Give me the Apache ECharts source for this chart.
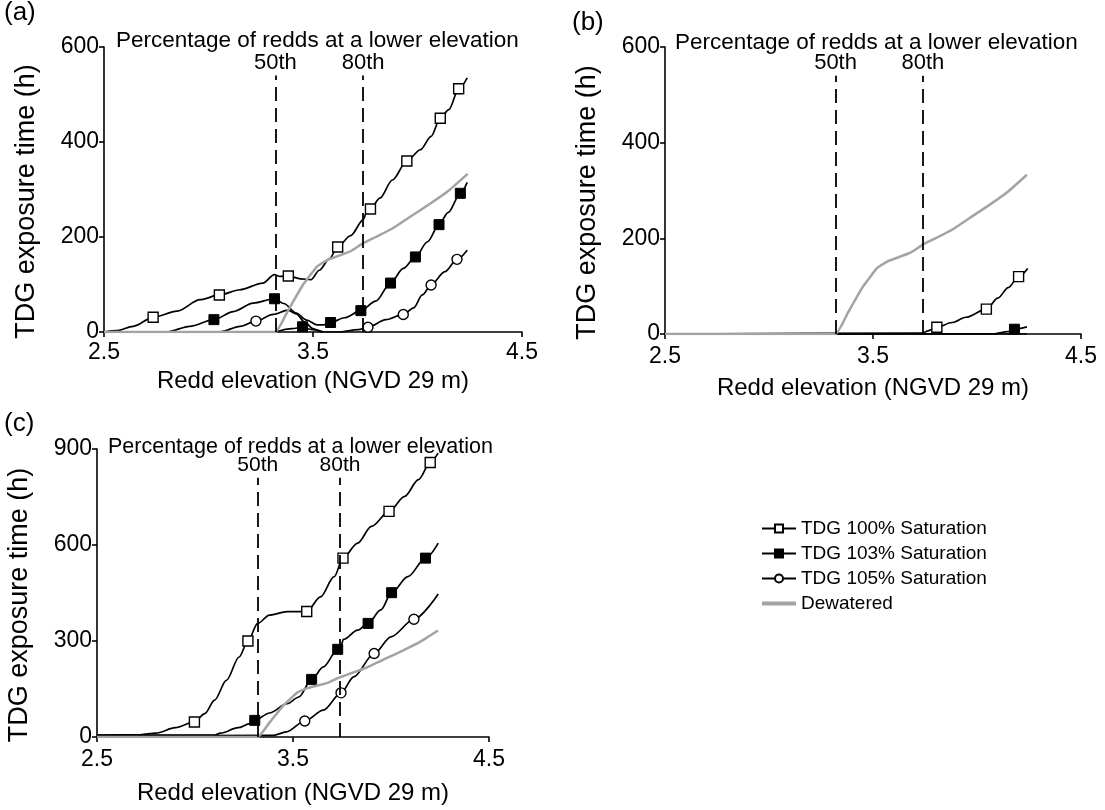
<!DOCTYPE html>
<html>
<head>
<meta charset="utf-8">
<script src="https://cdn.jsdelivr.net/npm/echarts@6/dist/echarts.min.js"></script>
<style>
  html, body { margin: 0; padding: 0; background: #fff; }
  #chart { width: 1105px; height: 810px; }
</style>
</head>
<body>
<div id="chart"></div>
<script>
// redd elevation (m) vs TDG exposure time (h)
const xMin = 2.5, xMax = 4.5;
const pct50 = 3.32;  // 50th percentile redd elevation
const pct80 = 3.74;  // 80th percentile

const names = ['TDG 100% Saturation', 'TDG 103% Saturation', 'TDG 105% Saturation', 'Dewatered'];

// dewatered curve is the same in all panels
const dewatered = [[2.5,0],[3.32,0],[3.38,45],[3.45,98],[3.52,138],[3.57,152],[3.62,160],[3.68,170],[3.74,187],[3.80,200],[3.88,218],[3.98,247],[4.06,270],[4.15,298],[4.24,333]];

// panel (a)
const a100 = [[2.5,0],[2.56,3],[2.64,12],[2.85,44],[2.96,68],[3.15,89],[3.26,103],[3.315,121],[3.34,117],[3.44,112],[3.49,110],[3.53,130],[3.58,155],[3.68,203],[3.742,237],[3.752,248],[3.82,282],[3.88,320],[4.015,384],[4.065,412],[4.15,468],[4.238,535]];
const a100Marks = [[2.735,31],[3.052,78],[3.382,118],[3.618,179],[3.775,259],[3.949,360],[4.109,450],[4.197,512]];
const a103 = [[2.5,0],[2.8,0],[2.91,12],[3.119,43],[3.214,61],[3.36,60],[3.42,40],[3.47,25],[3.52,15],[3.55,15],[3.651,30],[3.8,65],[3.932,134],[4.048,190],[4.147,252],[4.238,315]];
const a103Marks = [[3.026,26],[3.316,70],[3.584,20],[3.729,45],[3.871,103],[3.99,158],[4.103,226],[4.205,292]];
const a103Hump = [[3.32,0],[3.40,7],[3.45,10],[3.50,5],[3.55,0]];
const a103HumpMarks = [[3.45,11]];
const a105 = [[2.5,0],[3.055,0],[3.151,12],[3.31,37],[3.38,46],[3.42,38],[3.46,21],[3.50,7],[3.54,0],[3.62,0],[3.717,5],[3.849,26],[3.982,51],[4.023,78],[4.131,127],[4.238,172]];
const a105Marks = [[3.227,23],[3.763,10],[3.932,37],[4.065,99],[4.189,153]];

// panel (b)
const b100 = [[2.5,0],[3.74,2],[3.76,6],[3.88,24],[3.946,35],[4.10,75],[4.15,97],[4.244,137]];
const b100Marks = [[3.807,14],[4.045,52],[4.2,120]];
const b103 = [[2.5,0],[4.07,0],[4.15,5],[4.24,15]];
const b103Marks = [[4.18,10]];
const b105 = [[2.5,0],[4.24,0]];
const b105Marks = [];

// panel (c)
const c100 = [[2.5,6],[2.72,7],[2.8,12],[2.9,29],[3.05,73],[3.1,115],[3.16,177],[3.225,250],[3.32,355],[3.38,381],[3.47,392],[3.64,438],[3.71,501],[3.83,606],[3.9,658],[4.07,752],[4.14,804],[4.24,887]];
const c100Marks = [[2.997,47],[3.27,300],[3.57,392],[3.755,559],[3.99,705],[4.2,858]];
const c103 = [[2.5,5],[3.1,6],[3.13,12],[3.22,29],[3.28,42],[3.38,75],[3.47,104],[3.53,125],[3.655,219],[3.745,285],[3.757,305],[3.83,334],[3.948,397],[4.086,501],[4.241,606]];
const c103Marks = [[3.305,52],[3.595,180],[3.728,274],[3.883,355],[4.003,451],[4.176,559]];
const c105 = [[2.5,4],[3.4,5],[3.466,16],[3.655,84],[3.81,188],[4.0,313],[4.241,447]];
const c105Marks = [[3.56,50],[3.745,138],[3.914,261],[4.117,368]];

const yMax = [600, 600, 900];
const yStep = [200, 200, 300];
const dashTop = [540, 540, 810];

const font = 'Liberation Sans, Arial, sans-serif';
const grey = '#a3a3a3';

const markStyle = {
  100: { symbol: 'rect', itemStyle: { color: '#fff', borderColor: '#000', borderWidth: 1.4 } },
  103: { symbol: 'rect', itemStyle: { color: '#000', borderColor: '#000', borderWidth: 1 } },
  105: { symbol: 'circle', itemStyle: { color: '#fff', borderColor: '#000', borderWidth: 1.4 } }
};

// curve points without symbol, marker points with one
function withMarks(curve, marks) {
  const pts = curve.map(p => ({ value: p, symbol: 'none' }))
    .concat(marks.map(p => ({ value: p })));
  pts.sort((p, q) => p.value[0] - q.value[0]);
  return pts;
}

function tdgSeries(idx, key, curve, marks) {
  const st = markStyle[key];
  return {
    name: 'TDG ' + key + '% Saturation',
    type: 'line',
    xAxisIndex: idx, yAxisIndex: idx,
    data: withMarks(curve, marks),
    symbol: st.symbol,
    symbolSize: 10,
    showSymbol: true,
    smooth: 0.3,
    smoothMonotone: 'x',
    lineStyle: { color: '#000', width: 1.7 },
    itemStyle: st.itemStyle,
    z: 3
  };
}

function dewSeries(idx) {
  return {
    name: 'Dewatered',
    type: 'line',
    xAxisIndex: idx, yAxisIndex: idx,
    data: dewatered,
    showSymbol: false,
    symbol: 'none',
    smooth: 0.1,
    lineStyle: { color: grey, width: 2.5 },
    itemStyle: { color: grey },
    z: 4,
    markLine: {
      silent: true,
      symbol: 'none',
      animation: false,
      lineStyle: { color: '#000', type: [14, 7], width: 1.8 },
      label: {
        show: true, position: 'end', distance: 2, formatter: '{b}',
        color: '#000', fontSize: idx === 2 ? 21 : 22, fontFamily: font
      },
      data: [
        [{ name: '50th', coord: [pct50, 0] }, { coord: [pct50, dashTop[idx]] }],
        [{ name: '80th', coord: [pct80, 0] }, { coord: [pct80, dashTop[idx]] }]
      ]
    }
  };
}

const grids = [
  { left: 104, top: 47, width: 418, height: 285 },
  { left: 665, top: 47, width: 416, height: 287 },
  { left: 97, top: 449, width: 392, height: 288 }
];
const labelMargin = [9, 11, 11];
const xNameGap = [37, 42, 44];

const xAxes = grids.map((g, i) => ({
  type: 'value', gridIndex: i, min: xMin, max: xMax, interval: 1,
  name: 'Redd elevation (NGVD 29 m)', nameLocation: 'middle', nameGap: xNameGap[i],
  nameTextStyle: { color: '#000', fontSize: 24, fontFamily: font },
  axisLine: { lineStyle: { color: '#000', width: 1.6 } },
  axisTick: { show: true, length: 5, lineStyle: { color: '#000', width: 1.6 } },
  axisLabel: { color: '#000', fontSize: 23, fontFamily: font, margin: labelMargin[i] },
  splitLine: { show: false }
}));

const yAxes = grids.map((g, i) => ({
  type: 'value', gridIndex: i, min: 0, max: yMax[i], interval: yStep[i],
  name: 'TDG exposure time (h)', nameLocation: 'middle', nameGap: 64,
  nameTextStyle: { color: '#000', fontSize: 27, fontFamily: font, padding: [0, 24, 0, 0] },
  axisLine: { show: true, lineStyle: { color: '#000', width: 1.6 } },
  axisTick: { show: true, length: 5, lineStyle: { color: '#000', width: 1.6 } },
  axisLabel: { color: '#000', fontSize: 23, fontFamily: font, margin: 5 },
  splitLine: { show: false }
}));

const series = [
  tdgSeries(0, 100, a100, a100Marks),
  tdgSeries(0, 103, a103, a103Marks),
  tdgSeries(0, 103, a103Hump, a103HumpMarks),
  tdgSeries(0, 105, a105, a105Marks),
  dewSeries(0),
  tdgSeries(1, 100, b100, b100Marks),
  tdgSeries(1, 103, b103, b103Marks),
  tdgSeries(1, 105, b105, b105Marks),
  dewSeries(1),
  tdgSeries(2, 100, c100, c100Marks),
  tdgSeries(2, 103, c103, c103Marks),
  tdgSeries(2, 105, c105, c105Marks),
  dewSeries(2)
];

function txt(x, y, s, size) {
  return {
    type: 'text', left: x, top: y, silent: true,
    style: { text: s, fill: '#000', font: size + 'px ' + font }
  };
}

const chart = echarts.init(document.getElementById('chart'));
chart.setOption({
  animation: false,
  backgroundColor: '#fff',
  grid: grids,
  xAxis: xAxes,
  yAxis: yAxes,
  legend: {
    orient: 'vertical', left: 756, top: 514,
    itemWidth: 34, itemHeight: 10, itemGap: 6,
    data: names.slice(0, 3).concat([
      { name: names[3], icon: 'path://M0,0L34,0L34,4L0,4Z' }
    ]),
    textStyle: { color: '#000', fontSize: 19, fontFamily: font }
  },
  graphic: [
    txt(4, 0, '(a)', 26),
    txt(572, 10, '(b)', 26),
    txt(4, 411, '(c)', 26),
    txt(116, 29, 'Percentage of redds at a lower elevation', 22.5),
    txt(675, 31, 'Percentage of redds at a lower elevation', 22.5),
    txt(108, 436, 'Percentage of redds at a lower elevation', 21.5)
  ],
  series: series
});
</script>
</body>
</html>
